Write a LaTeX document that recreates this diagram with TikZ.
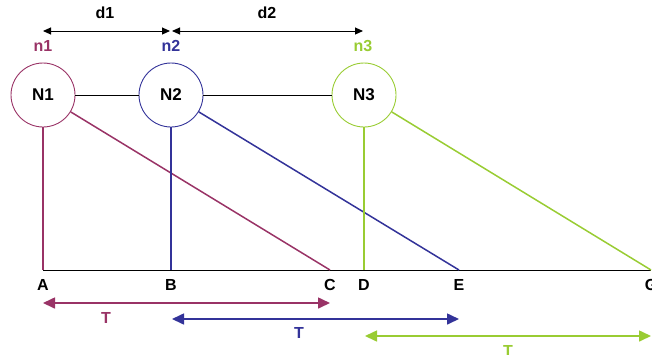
\documentclass[tikz,border=0pt]{standalone}
\usepackage{fontspec}
\setmainfont{Liberation Sans}
\usetikzlibrary{arrows.meta,positioning}
\definecolor{wine}{HTML}{993366}
\definecolor{ink}{HTML}{333399}
\definecolor{leaf}{HTML}{99CC33}

\begin{document}
\begin{tikzpicture}[x=1pt,y=-1pt,
    station/.style={circle,draw=#1,line width=0.9pt,minimum size=64pt,inner sep=0pt,
      font=\bfseries\fontsize{17}{17}\selectfont},
    ntag/.style={font=\bfseries\fontsize{16}{16}\selectfont},
    leg/.style={#1,line width=1.5pt},
    dimarrow/.style={{Triangle[length=8pt,width=7pt]}-{Triangle[length=8pt,width=7pt]},line width=1pt},
    tspan/.style={{Triangle[length=12pt,width=11pt]}-{Triangle[length=12pt,width=11pt]},line width=1.6pt,#1}]
    \useasboundingbox (0,0) rectangle (652,354);
    % stations
    \node[station=wine] (N1) at (43,95) {N1};
    \node[station=ink] (N2) at (171,95) {N2};
    \node[station=leaf] (N3) at (364,95) {N3};
    \draw[line width=0.8pt] (N1) -- (N2);
    \draw[line width=0.8pt] (N2) -- (N3);
    \node[ntag,text=wine] (n1) at (43,46) {n1};
    \node[ntag,text=ink] (n2) at (171,46) {n2};
    \node[ntag,text=leaf] (n3) at (363,46) {n3};
    % distances
    \coordinate (d1a) at (43,31);
    \coordinate (d1b) at (170,31);
    \coordinate (d2a) at (172,31);
    \coordinate (d2b) at (363,31);
    \draw[dimarrow] (d1a) -- (d1b);
    \draw[dimarrow] (d2a) -- (d2b);
    \node[ntag] (d1) at (105,13) {d1};
    \node[ntag] (d2) at (267,13) {d2};
    % ground line
    \foreach \p/\x in {A/43,B/171,C/330,D/364,E/459,G/651}
      \coordinate (\p) at (\x,270);
    \draw[line width=1pt] (A) -- (G);
    \foreach \p in {A,B,C,D,E,G}
      \node[ntag,below=6pt of \p] (l\p) {\p};
    \draw[leg=wine] (N1) -- (A);
    \draw[leg=wine] (N1) -- (C);
    \draw[leg=ink] (N2) -- (B);
    \draw[leg=ink] (N2) -- (E);
    \draw[leg=leaf] (N3) -- (D);
    \draw[leg=leaf] (N3) -- (G);
    % periods
    \coordinate (Ta) at (43,303);
    \coordinate (Tb) at (330,303);
    \coordinate (Tc) at (172,319);
    \coordinate (Td) at (459,319);
    \coordinate (Te) at (365,336);
    \coordinate (Tf) at (651,336);
    \draw[tspan=wine] (Ta) -- (Tb);
    \draw[tspan=ink] (Tc) -- (Td);
    \draw[tspan=leaf] (Te) -- (Tf);
    \node[ntag,text=wine] (T1) at (106,318) {T};
    \node[ntag,text=ink] (T2) at (299,333) {T};
    \node[ntag,text=leaf] (T3) at (508,351) {T};
  \end{tikzpicture}
\end{document}
